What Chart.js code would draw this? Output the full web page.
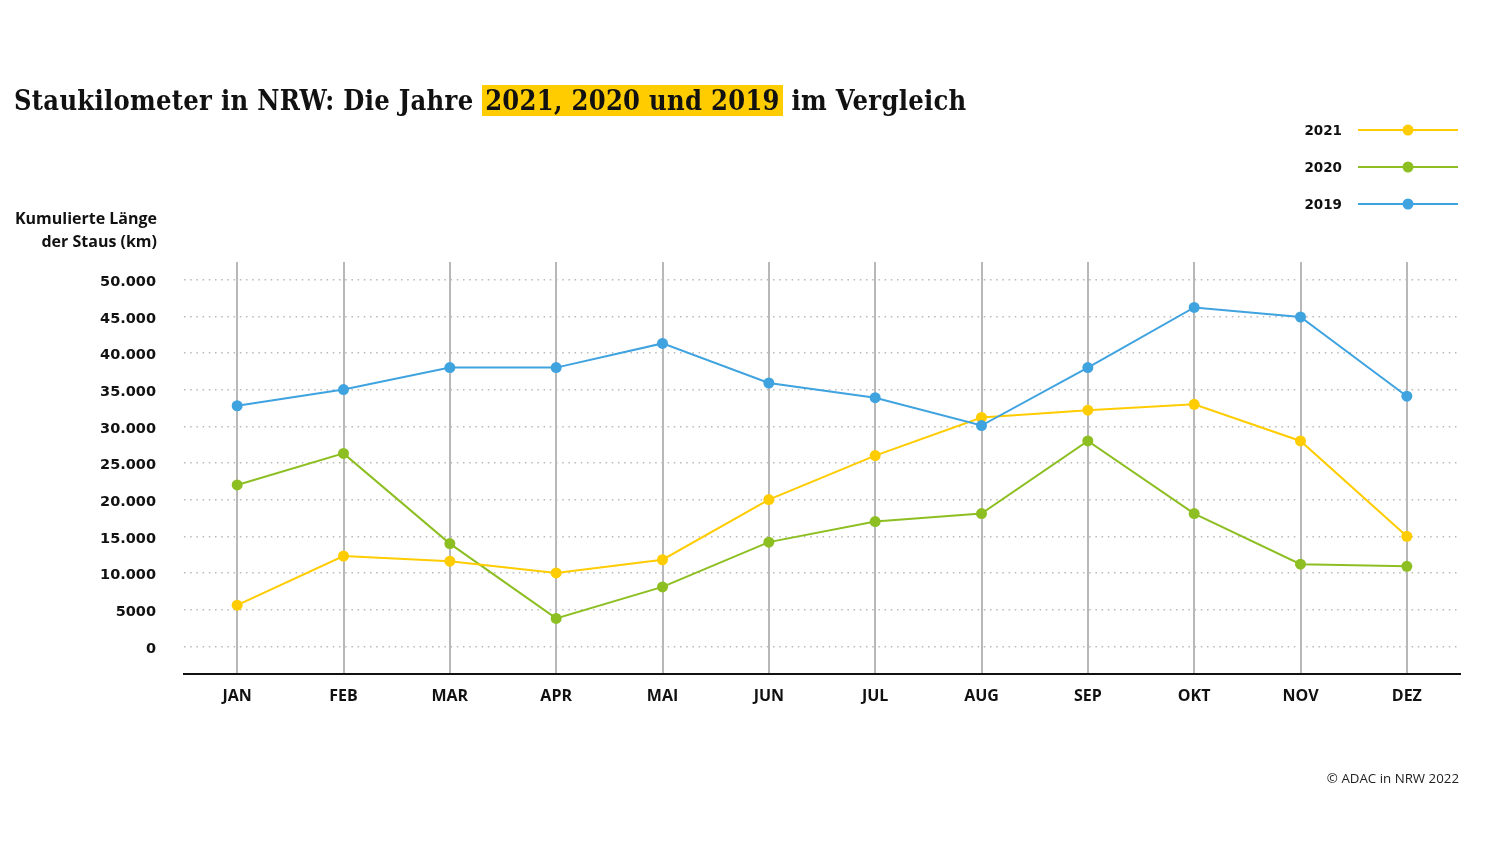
<!DOCTYPE html>
<html lang="de">
<head>
<meta charset="utf-8">
<title>Staukilometer in NRW</title>
<script src="https://cdn.jsdelivr.net/npm/chart.js@4"></script>
<style>
  html, body { margin: 0; padding: 0; background: #fff; }
  #wrap { position: relative; width: 1500px; height: 844px; overflow: hidden; }
  #chart { position: absolute; left: 0; top: 0; }
  #title {
    position: absolute; left: 14px; top: 85px; margin: 0;
    font-family: "DejaVu Serif", serif; font-stretch: condensed;
    font-weight: bold; font-size: 27px; line-height: normal; color: #111; white-space: nowrap;
    letter-spacing: 0.3px;
  }
  #title span { background: #ffcc00; padding: 0 3px; }
  #footer {
    position: absolute; right: 41px; top: 769px;
    font-family: "Open Sans", sans-serif; font-size: 13.3px; color: #222;
  }
</style>
</head>
<body>
<div id="wrap">
  <canvas id="chart" width="1500" height="844"></canvas>
  <h1 id="title">Staukilometer in NRW: Die Jahre <span>2021, 2020 und 2019</span> im Vergleich</h1>
  <div id="footer">© ADAC in NRW 2022</div>
</div>
<script>
const months = ["JAN", "FEB", "MAR", "APR", "MAI", "JUN", "JUL", "AUG", "SEP", "OKT", "NOV", "DEZ"];
const years = ["2021", "2020", "2019"];
const stau2021 = [5600, 12300, 11600, 10000, 11800, 20000, 26000, 31200, 32200, 33000, 28000, 15000];
const stau2020 = [22000, 26300, 14000, 3800, 8100, 14200, 17000, 18100, 28000, 18100, 11200, 10900];
const stau2019 = [32800, 35000, 38000, 38000, 41300, 35900, 33900, 30100, 38000, 46200, 44900, 34100];
const tickValues = [0, 5000, 10000, 15000, 20000, 25000, 30000, 35000, 40000, 45000, 50000];
const tickLabels = ["0", "5000", "10.000", "15.000", "20.000", "25.000", "30.000", "35.000", "40.000", "45.000", "50.000"];
const axisTitle = ["Kumulierte Länge", "der Staus (km)"];

const colors = { "2021": "#ffcc00", "2020": "#8dbf22", "2019": "#3fa3e0" };
const font = "'Open Sans', 'Noto Sans', sans-serif";
const numFont = "'DejaVu Sans', sans-serif";

function series(label, data, order) {
  return {
    label: label,
    data: data,
    order: order,
    borderColor: colors[label],
    backgroundColor: colors[label],
    borderWidth: 2,
    pointRadius: 5.5,
    pointBorderWidth: 0,
    pointHoverRadius: 5.5,
    tension: 0
  };
}

// legend on the right: label, then line with a dot in the middle
const sideLegend = {
  id: "sideLegend",
  afterDraw(chart) {
    const ctx = chart.ctx;
    ctx.save();
    ctx.font = "bold 13.5px " + numFont;
    ctx.textAlign = "right";
    ctx.textBaseline = "middle";
    years.forEach((y, i) => {
      const yy = 130 + i * 37;
      ctx.fillStyle = "#111";
      ctx.fillText(y, 1342, yy + 1);
      ctx.strokeStyle = colors[y];
      ctx.lineWidth = 2;
      ctx.beginPath();
      ctx.moveTo(1358, yy);
      ctx.lineTo(1458, yy);
      ctx.stroke();
      ctx.fillStyle = colors[y];
      ctx.beginPath();
      ctx.arc(1408, yy, 5.5, 0, Math.PI * 2);
      ctx.fill();
    });
    // y axis title above the tick labels
    ctx.font = "bold 16px " + font;
    ctx.fillStyle = "#111";
    axisTitle.forEach((t, i) => ctx.fillText(t, 157, 219 + i * 23));
    ctx.restore();
  }
};

new Chart(document.getElementById("chart"), {
  type: "line",
  data: {
    labels: months,
    datasets: [
      series("2021", stau2021, 1),
      series("2020", stau2020, 2),
      series("2019", stau2019, 0)
    ]
  },
  options: {
    responsive: false,
    animation: false,
    devicePixelRatio: 1,
    layout: { padding: { top: 262, right: 40, left: 0, bottom: 0 } },
    plugins: {
      legend: { display: false },
      title: { display: false },
      tooltip: { enabled: false }
    },
    scales: {
      x: {
        offset: true,
        grid: { color: "#b8b8b8", lineWidth: 2, drawTicks: false, offset: false },
        border: { display: true, color: "#111", width: 2 },
        ticks: { color: "#111", font: { family: font, size: 16, weight: "bold" }, padding: 13, maxRotation: 0 },
        afterFit(scale) { scale.height = 170; }
      },
      y: {
        min: -3780,
        max: 52400,
        grid: { color: "#b9b9b9", lineWidth: 1.5, drawTicks: false },
        border: { display: false, dash: [1.5, 4.7] },
        afterBuildTicks(scale) { scale.ticks = tickValues.map(v => ({ value: v })); },
        ticks: {
          color: "#111",
          padding: 28,
          labelOffset: 2.5,
          font: { family: numFont, size: 14.5, weight: "bold" },
          callback: (v) => tickLabels[tickValues.indexOf(v)]
        },
        afterFit(scale) { scale.width = 184; }
      }
    }
  },
  plugins: [sideLegend]
});
</script>
</body>
</html>
